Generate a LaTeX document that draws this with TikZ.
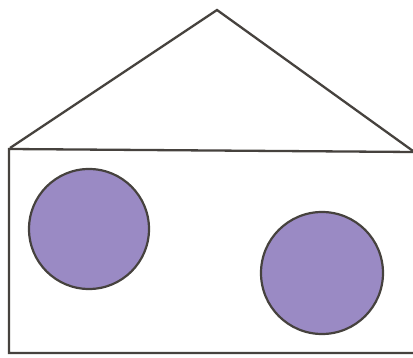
\documentclass[tikz,border=0pt]{standalone}
\definecolor{inkline}{HTML}{46423E}
\definecolor{discfill}{HTML}{9A8AC4}
\begin{document}
\begin{tikzpicture}[x=1pt,y=-1pt,
  outline/.style={draw=inkline,line width=2.3pt,line join=miter},
  disc/.style={circle,draw=inkline,line width=2.2pt,fill=discfill,inner sep=0pt}]
\useasboundingbox[fill=white] (0,0) rectangle (413,358);
\coordinate (apex) at (217,10);
\coordinate (rl) at (10,148);
\coordinate (rr) at (413,151);
\draw[outline] (rl) -- (apex) -- (rr);
\coordinate (tl) at (9,149);
\coordinate (tr) at (413,152);
\coordinate (bl) at (9,353);
\coordinate (br) at (413,353);
\draw[outline] (tr) -- (tl) -- (bl) -- (br);
\node[disc,minimum size=120pt] (c1) at (89,229) {};
\node[disc,minimum size=122pt] (c2) at (322,273) {};
\end{tikzpicture}
\end{document}
